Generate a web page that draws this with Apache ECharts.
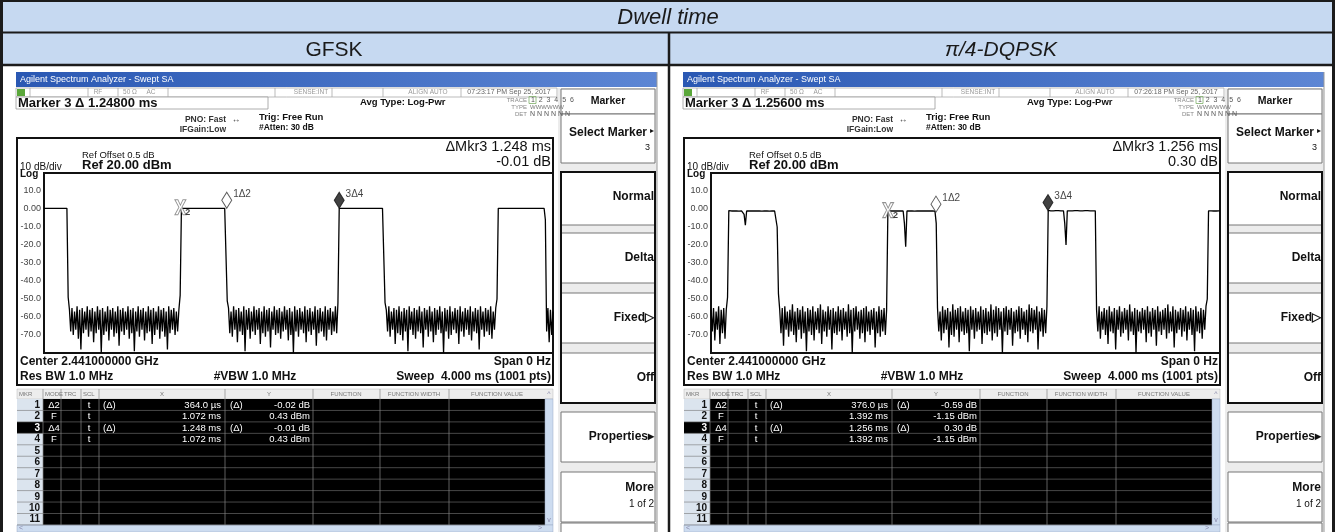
<!DOCTYPE html>
<html>
<head>
<meta charset="utf-8">
<script src="https://cdn.jsdelivr.net/npm/echarts@6/dist/echarts.min.js"></script>
<style>
  html, body { margin: 0; padding: 0; background: #fff; }
  #chart { width: 1335px; height: 532px; }
</style>
</head>
<body>
<div id="chart"></div>
<script>
// --- data (4 ms zero-span sweep, one sample per 10 us) ---
const sampleStep = 0.01; // ms
const yTickLabels = ['10.0', '0.00', '-10.0', '-20.0', '-30.0', '-40.0', '-50.0', '-60.0', '-70.0'];

// GFSK trace pieces
const gfskHigh0 = [0.4,0.4,0.4,0.4,0.4,0.4,0.4,0.4,0.4,0.4, 0.4,0.4,0.4,0.4,0.4,0.4,0.4,0.4,0.4];
const gfskNoise1 = [
  -56,-68,-55,-70,-57,-67,-54,-72,-56,-78,-55,-69,-57,-67,-54,-71,-56,-68,-55,-74,
  -57,-69,-54,-67,-56,-80,-55,-70,-57,-68,-54,-73,-56,-67,-55,-71,-57,-69,-54,-76,
  -56,-68,-55,-70,-57,-67,-54,-72,-56,-69,-55,-79,-57,-68,-54,-71,-56,-67,-55,-73,
  -57,-69,-54,-68,-56,-75,-55,-70,-57,-67,-54,-72,-56,-68,-55,-71,-57,-78,-54,-69,
  -56,-67,-55,-70,-57,-68,-56];
const gfskHigh1 = [0.4,0.4,0.4,0.4,0.4,0.4,0.4,0.4,0.4,0.4, 0.4,0.4,0.4,0.4,0.4,0.4,0.4,0.4,0.4,0.4,
  0.4,0.4,0.4,0.4,0.4,0.4,0.4,0.4,0.4,0.4, 0.4,0.4,0.4,0.4,0.4,0.4];
const gfskNoise2 = [
  -55,-69,-57,-71,-54,-67,-56,-74,-55,-68,-57,-70,-54,-79,-56,-67,-55,-72,-57,-68,
  -54,-70,-56,-67,-55,-75,-57,-69,-54,-71,-56,-68,-55,-77,-57,-67,-54,-70,-56,-69,
  -55,-72,-57,-68,-54,-67,-56,-73,-55,-70,-57,-80,-54,-68,-56,-71,-55,-67,-57,-69,
  -54,-74,-56,-68,-55,-70,-57,-67,-54,-76,-56,-69,-55,-68,-57,-71,-54,-73,-56,-67,
  -55,-70,-57,-68,-54,-69,-52];
const gfskHigh2 = [0.4,0.4,0.4,0.4,0.4,0.4,0.4,0.4,0.4,0.4, 0.4,0.4,0.4,0.4,0.4,0.4,0.4,0.4,0.4,0.4,
  0.4,0.4,0.4,0.4,0.4,0.4,0.4,0.4,0.4,0.4, 0.4,0.4,0.4,0.4,0.4,0.4];
const gfskNoise3 = [
  -56,-68,-54,-71,-57,-67,-55,-75,-56,-69,-54,-70,-57,-73,-55,-68,-56,-79,-54,-67,
  -57,-70,-55,-72,-56,-68,-54,-69,-57,-77,-55,-67,-56,-71,-54,-68,-57,-74,-55,-70,
  -56,-67,-54,-69,-57,-80,-55,-68,-56,-72,-54,-70,-57,-67,-55,-69,-56,-75,-54,-68,
  -57,-71,-55,-67,-56,-70,-54,-73,-57,-68,-55,-69,-56,-78,-54,-67,-57,-71,-55,-68,
  -56,-70,-54,-72,-57,-67,-55,-50];
const gfskHigh3 = [0.4,0.4,0.4,0.4,0.4,0.4,0.4,0.4,0.4,0.4, 0.4,0.4,0.4,0.4,0.4,0.4,0.4,0.4,0.4,0.4,
  0.4,0.4,0.4,0.4,0.4,0.4,0.4,0.4,0.4,0.4, 0.4,0.4,0.4,0.4,0.4,0.4,0.4];
const gfskNoise4 = [-68,-55,-74,-56,-70,-57];

// pi/4-DQPSK trace pieces
const dqpskNoise1 = [-56,-68,-55,-73,-57,-67,-54,-75,-56,-69,-55,-72,-56];
const dqpskHigh1 = [-0.9,-1.0,-1.1,-1.0,-1.1,-1.1,-1.0,-1.1,-1.2,-1.1,-1.1,-1.0,-3,-9,-1.1,-1.2,-1.1,-1.1,-1.0,-1.1,
  -1.1,-1.2,-1.1,-1.0,-1.1,-1.1,-1.2,-1.1,-1.1,-1.0, -1.1,-1.1,-1.2,-1.1,-1.1,-1.0,-1.1,-1.2];
const dqpskNoise2 = [
  -56,-69,-55,-76,-54,-67,-57,-71,-56,-68,-53,-70,-57,-74,-55,-67,-56,-72,-54,-69,
  -57,-79,-55,-68,-56,-70,-54,-73,-57,-67,-55,-69,-53,-75,-56,-68,-57,-71,-54,-67,
  -56,-78,-55,-69,-57,-70,-54,-68,-56,-73,-55,-67,-57,-71,-53,-69,-56,-80,-55,-68,
  -54,-67,-57,-72,-56,-69,-55,-74,-54,-68,-57,-70,-56,-67,-55,-77,-57,-69,-54,-71,
  -56,-68,-55,-70,-56];
const dqpskHigh2 = [-1.1,-1.0,-1.1,-1.2,-1.1,-1.1,-1.0,-1.1,-1.1,-1.2,-1.1,-1.0,-1.1,-8,-21,-1.1,-1.2,-1.1,-1.0,-1.1,
  -1.1,-1.2,-1.1,-1.1,-1.0,-1.1,-1.2,-1.1,-1.1,-1.0,-1.1,-1.1,-1.2,-1.1,-1.0,-1.1,-1.1,-1.2];
const dqpskNoise3 = [
  -55,-68,-57,-73,-54,-69,-56,-67,-55,-77,-57,-70,-53,-71,-56,-67,-55,-74,-54,-68,
  -57,-70,-55,-69,-56,-79,-54,-67,-56,-72,-55,-68,-57,-67,-54,-75,-56,-69,-55,-70,
  -57,-68,-53,-73,-56,-69,-54,-71,-55,-67,-57,-80,-55,-68,-54,-70,-56,-67,-55,-76,
  -57,-69,-56,-68,-54,-72,-55,-67,-57,-70,-56,-74,-53,-68,-55,-69,-56,-67,-54,-78,
  -57,-68,-55,-71,-56,-69,-54];
const dqpskHigh3 = [-0.8,-0.9,-1.0,-0.9,-1.0,-1.0,-0.9,-1.0,-0.9,-1.0,-1.0,-0.9,-1.0,-8,-20,-1.0,-0.9,-1.0,-0.9,-1.0,
  -1.0,-0.9,-1.0,-0.9,-1.0,-1.0,-0.9,-1.0,-1.0,-0.9,-1.0,-0.9,-1.0,-1.0,-0.9,-1.0,-0.9,-1.0];
const dqpskNoise4 = [
  -56,-68,-54,-72,-57,-67,-55,-70,-56,-75,-54,-68,-57,-69,-55,-78,-56,-67,-54,-71,
  -57,-69,-55,-67,-56,-73,-53,-68,-57,-70,-55,-80,-56,-68,-57,-69,-55,-67,-56,-74,
  -54,-69,-57,-71,-55,-67,-56,-76,-54,-68,-57,-70,-56,-67,-55,-72,-53,-69,-57,-68,
  -54,-77,-56,-69,-57,-67,-55,-71,-56,-68,-54,-73,-57,-67,-55,-70,-56,-79,-54,-68,
  -57,-69,-55,-72,-56,-67,-54,-50];
const dqpskHigh4 = [-1.0,-1.1,-1.0,-1.1,-1.1,-1.0,-1.1,-1.1,-1.0,-1.1];

const gfskTrace = [].concat(gfskHigh0, [-49], gfskNoise1, [-48], gfskHigh1, [-51], gfskNoise2,
  gfskHigh2, [-52], gfskNoise3, gfskHigh3, [-6], gfskNoise4);
const dqpskTrace = [].concat(dqpskNoise1, [-49], dqpskHigh1, [-10, -47], dqpskNoise2,
  dqpskHigh2, [-8], dqpskNoise3, dqpskHigh3, dqpskNoise4, dqpskHigh4);

// markers: 1 (delta), 2 (fixed), 3 (delta)
const markerNames = ['1Δ2', '2', '3Δ4'];
const gfskMarkerT = [1.436, 1.072, 2.320];
const gfskMarkerY = [0.41, 0.43, 0.42];
const dqpskMarkerT = [1.768, 1.392, 2.648];
const dqpskMarkerY = [-1.74, -1.15, -0.85];

// marker tables
const gfskTable = [
  ['1', 'Δ2', 't', '(Δ)', '364.0 µs', '(Δ)', '-0.02 dB'],
  ['2', 'F', 't', '', '1.072 ms', '', '0.43 dBm'],
  ['3', 'Δ4', 't', '(Δ)', '1.248 ms', '(Δ)', '-0.01 dB'],
  ['4', 'F', 't', '', '1.072 ms', '', '0.43 dBm']
];
const dqpskTable = [
  ['1', 'Δ2', 't', '(Δ)', '376.0 µs', '(Δ)', '-0.59 dB'],
  ['2', 'F', 't', '', '1.392 ms', '', '-1.15 dBm'],
  ['3', 'Δ4', 't', '(Δ)', '1.256 ms', '(Δ)', '0.30 dB'],
  ['4', 'F', 't', '', '1.392 ms', '', '-1.15 dBm']
];
const tableHeads = ['MKR', 'MODE', 'TRC', 'SCL', 'X', 'Y', 'FUNCTION', 'FUNCTION WIDTH', 'FUNCTION VALUE'];
const softkeys = ['Normal', 'Delta', 'Fixed▷', 'Off'];

const panelNames = ['GFSK', 'π/4-DQPSK'];
const timeStamps = ['07:23:17 PM Sep 25, 2017', '07:26:18 PM Sep 25, 2017'];
const readouts = ['Marker 3 Δ 1.24800 ms', 'Marker 3 Δ 1.25600 ms'];
const deltaTimes = ['ΔMkr3 1.248 ms', 'ΔMkr3 1.256 ms'];
const deltaLevels = ['-0.01 dB', '0.30 dB'];

// --- drawing helpers ---
const FONT = '"Liberation Sans", Arial, sans-serif';
const els = [];

function rect(x, y, w, h, fill, stroke, lw, z) {
  els.push({ type: 'rect', silent: true, z: z || 1, shape: { x, y, width: w, height: h },
    style: { fill: fill || 'none', stroke: stroke || null, lineWidth: lw || 0 } });
}
function line(x1, y1, x2, y2, stroke, lw, z) {
  els.push({ type: 'line', silent: true, z: z || 2, shape: { x1, y1, x2, y2 },
    style: { stroke, lineWidth: lw || 1 } });
}
function text(x, y, s, size, o) {
  o = o || {};
  els.push({ type: 'text', silent: true, z: o.z || 10, x, y,
    style: { text: s, fill: o.color || '#111',
      font: (o.italic ? 'italic ' : '') + (o.bold ? 'bold ' : '') + size + 'px ' + FONT,
      align: o.align || 'left', verticalAlign: 'middle' } });
}

// --- outer table ---
rect(2, 2, 1331, 30, '#c6d9f1', null, 0, 0);
rect(2, 33, 1331, 31, '#c6d9f1', null, 0, 0);
line(0, 1, 1335, 1, '#1b1b1b', 2);
line(0, 32.5, 1335, 32.5, '#1b1b1b', 2);
line(0, 65, 1335, 65, '#1b1b1b', 2.5);
line(1.5, 0, 1.5, 532, '#1b1b1b', 3);
line(669, 32, 669, 532, '#1b1b1b', 2.5);
line(1333.5, 0, 1333.5, 532, '#1b1b1b', 3);
text(668, 18, 'Dwell time', 22, { italic: true, align: 'center', color: '#1a1a1a' });
text(334, 50, panelNames[0], 21, { align: 'center', color: '#1a1a1a' });
text(1001, 50, panelNames[1], 21, { italic: true, align: 'center', color: '#1a1a1a' });

function drawScreen(p, ox, rows) {
  const X = v => v + ox;
  // title bar
  els.push({ type: 'rect', silent: true, z: 1, shape: { x: X(16), y: 72, width: 641, height: 15 },
    style: { fill: { type: 'linear', x: 0, y: 0, x2: 1, y2: 0,
      colorStops: [{ offset: 0, color: '#2a58b3' }, { offset: 1, color: '#5d86d4' }] } } });
  text(X(20), 79.5, 'Agilent Spectrum Analyzer - Swept SA', 9, { color: '#fff' });
  line(X(657), 72, X(657), 532, '#9a9a9a', 1);

  // status row
  rect(X(16), 88, 541, 9, '#fff', '#aaa', 0.8);
  [30, 88, 118, 168, 275, 332, 383, 461].forEach(c => line(X(c), 88, X(c), 97, '#aaa', 0.8));
  rect(X(17), 89, 8, 7, '#5aa73a');
  text(X(98), 92.5, 'RF', 6.5, { color: '#999', align: 'center' });
  text(X(130), 92.5, '50 Ω', 6.5, { color: '#999', align: 'center' });
  text(X(151), 92.5, 'AC', 6.5, { color: '#999', align: 'center' });
  text(X(311), 92.5, 'SENSE:INT', 6.5, { color: '#999', align: 'center' });
  text(X(428), 92.5, 'ALIGN AUTO', 6.5, { color: '#999', align: 'center' });
  text(X(509), 92.5, timeStamps[p], 7, { color: '#666', align: 'center' });

  // readout line
  rect(X(16), 97, 252, 12, '#fff', '#999', 0.8);
  text(X(18), 103.5, readouts[p], 13, { bold: true });
  text(X(360), 102, 'Avg Type: Log-Pwr', 9.5, { bold: true });
  text(X(527), 100, 'TRACE', 6, { color: '#888', align: 'right' });
  text(X(527), 107, 'TYPE', 6, { color: '#888', align: 'right' });
  text(X(527), 114, 'DET', 6, { color: '#888', align: 'right' });
  rect(X(529), 96.5, 7, 7, 'none', '#7fb06a', 0.8);
  text(X(531), 100, '1  2  3  4  5  6', 7, { color: '#555' });
  text(X(530), 107, 'WWWWWW', 6, { color: '#777' });
  text(X(530), 114, 'N N N N N N', 7, { color: '#555' });
  text(X(226), 120, 'PNO: Fast', 8.5, { bold: true, align: 'right', color: '#333' });
  text(X(236), 120, '↔', 8.5, { align: 'center', color: '#444' });
  text(X(226), 130, 'IFGain:Low', 8.5, { bold: true, align: 'right', color: '#333' });
  text(X(259), 117, 'Trig: Free Run', 9.5, { bold: true });
  text(X(259), 128, '#Atten: 30 dB', 8.5, { bold: true });

  // measurement frame
  rect(X(17), 138, 536, 247, 'none', '#111', 2, 3);
  text(X(82), 155, 'Ref Offset 0.5 dB', 9.5);
  text(X(82), 165, 'Ref 20.00 dBm', 13, { bold: true });
  text(X(20), 167, '10 dB/div', 10);
  text(X(20), 174, 'Log', 10, { bold: true });
  text(X(551), 147, deltaTimes[p], 14.5, { align: 'right' });
  text(X(551), 162, deltaLevels[p], 14.5, { align: 'right' });
  text(X(20), 362, 'Center 2.441000000 GHz', 12, { bold: true });
  text(X(20), 377, 'Res BW 1.0 MHz', 12, { bold: true });
  text(X(255), 377, '#VBW 1.0 MHz', 12, { bold: true, align: 'center' });
  text(X(551), 362, 'Span 0 Hz', 12, { bold: true, align: 'right' });
  text(X(551), 377, 'Sweep  4.000 ms (1001 pts)', 12, { bold: true, align: 'right' });

  // softkeys
  rect(X(558), 88, 99, 444, '#ececec', null, 0, 0);
  rect(X(561), 89, 94, 25, '#fff', '#777', 1);
  text(X(608), 101.5, 'Marker', 10.5, { bold: true, align: 'center' });
  rect(X(561), 114, 94, 49, '#fff', '#777', 1);
  text(X(647), 133, 'Select Marker', 12, { bold: true, align: 'right' });
  text(X(652), 131, '▸', 8, { align: 'center' });
  text(X(650), 148, '3', 9, { align: 'right' });
  softkeys.forEach((k, i) => {
    const y = [172, 233, 293, 353][i];
    rect(X(561), y, 94, [53, 50, 50, 50][i], '#fff', '#777', 1);
    text(X(654), y + 25, k, 12, { bold: true, align: 'right' });
  });
  rect(X(561), 172, 94, 231, 'none', '#111', 2, 3);
  rect(X(561), 412, 94, 50, '#fff', '#777', 1);
  text(X(654), 437, 'Properties▸', 12, { bold: true, align: 'right' });
  rect(X(561), 472, 94, 50, '#fff', '#777', 1);
  text(X(654), 488, 'More', 12, { bold: true, align: 'right' });
  text(X(654), 504, '1 of 2', 10, { align: 'right' });
  rect(X(561), 523, 94, 12, '#fff', '#777', 1);

  // marker table
  rect(X(17), 389, 536, 10, '#ededed', '#bbb', 0.5);
  const headX = [19, 45, 64, 83, 162, 269, 346, 414, 497];
  tableHeads.forEach((h, i) => text(X(headX[i]), 394, h, 6, { color: '#777', align: i > 3 ? 'center' : 'left' }));
  text(X(549), 394, '^', 7, { color: '#88a', align: 'center' });
  const rowH = 11.45;
  rect(X(17), 399, 528, rowH * 11, '#000');
  rect(X(17), 399, 26, rowH * 11, '#dbe4ee');
  const colLines = [43, 61, 81, 99, 225, 313, 380, 449];
  for (let r = 0; r < 11; r++) {
    const y = 399 + r * rowH;
    const sel = r === 2;
    if (sel) rect(X(17), y, 26, rowH, '#000');
    text(X(40), y + rowH / 2 + 0.5, String(r + 1), 10, { bold: true, align: 'right', color: sel ? '#fff' : '#111' });
    line(X(17), y + rowH, X(545), y + rowH, '#777', 0.6);
    const d = rows[r];
    if (d) {
      const cy = y + rowH / 2 + 0.5;
      text(X(54), cy, d[1], 9.5, { color: '#fff', align: 'center' });
      text(X(89), cy, d[2], 9.5, { color: '#fff', align: 'center' });
      text(X(103), cy, d[3], 9.5, { color: '#fff' });
      text(X(221), cy, d[4], 9.5, { color: '#fff', align: 'right' });
      text(X(230), cy, d[5], 9.5, { color: '#fff' });
      text(X(310), cy, d[6], 9.5, { color: '#fff', align: 'right' });
    }
  }
  colLines.forEach(c => line(X(c), 389, X(c), 399 + rowH * 11, '#888', 0.7));
  rect(X(545), 399, 8, rowH * 11, '#cddcf0', '#9aabc4', 0.5);
  text(X(549), 520, 'v', 7, { color: '#88a', align: 'center' });
  rect(X(17), 525, 536, 7, '#cddcf0', '#9aabc4', 0.5);
  text(X(21), 528.5, '<', 7, { color: '#88a', align: 'center' });
  text(X(540), 528.5, '>', 7, { color: '#88a', align: 'center' });
}
drawScreen(0, 0, gfskTable);
drawScreen(1, 667, dqpskTable);

// --- plots ---
const xSymbol = 'path://M0,0 L3,0 L5.5,5.5 L8,0 L11,0 L7,7.5 L11,15 L8,15 L5.5,9.5 L3,15 L0,15 L4,7.5 Z';
function grid(left) {
  return { left, top: 173, width: 509, height: 180, show: true, backgroundColor: '#fff',
    borderColor: '#111', borderWidth: 2, z: 1 };
}
function xAx(i) {
  return { type: 'value', gridIndex: i, min: 0, max: 4, interval: 0.4,
    axisLine: { show: false }, axisTick: { show: false }, axisLabel: { show: false },
    splitLine: { lineStyle: { color: '#8a8a8a', width: 1.5 } } };
}
function yAx(i) {
  return { type: 'value', gridIndex: i, min: -80, max: 20, interval: 10,
    axisLine: { show: false }, axisTick: { show: false },
    axisLabel: { margin: 3, fontSize: 9, color: '#444', fontFamily: FONT,
      formatter: v => { const k = Math.round((10 - v) / 10); return k >= 0 && k < yTickLabels.length ? yTickLabels[k] : ''; } },
    splitLine: { lineStyle: { color: '#8a8a8a', width: 1.5 } } };
}
function traceSeries(i, trace) {
  return { type: 'line', xAxisIndex: i, yAxisIndex: i, data: trace.map((v, k) => [k * sampleStep, v]),
    showSymbol: false, symbol: 'none', lineStyle: { color: '#000', width: 1.3 }, z: 3, silent: true };
}
function markerSeries(i, ts, ys) {
  const data = ts.map((t, k) => {
    const item = { value: [t, ys[k]], name: markerNames[k] };
    if (k === 1) {
      item.symbol = xSymbol; item.symbolSize = [11, 15]; item.symbolOffset = [0, -1];
      item.itemStyle = { color: '#fff', borderColor: '#777', borderWidth: 1 };
      item.label = { show: true, position: 'right', distance: 0, offset: [-1, 5], formatter: '{b}',
        fontSize: 9, fontWeight: 'bold', color: '#111', fontFamily: FONT };
    } else {
      item.symbol = 'diamond'; item.symbolSize = [10, 16]; item.symbolOffset = [0, -8];
      item.itemStyle = k === 0 ? { color: '#fff', borderColor: '#333', borderWidth: 1 }
                               : { color: '#111', borderColor: '#111', borderWidth: 1 };
      item.label = { show: true, position: 'right', distance: 1, offset: [0, -6], formatter: '{b}',
        fontSize: 10, color: '#111', fontFamily: FONT };
    }
    return item;
  });
  return { type: 'scatter', xAxisIndex: i, yAxisIndex: i, data, z: 5, silent: true };
}

const chart = echarts.init(document.getElementById('chart'), null, { renderer: 'canvas' });
chart.setOption({
  animation: false,
  backgroundColor: '#fff',
  grid: [grid(44), grid(711)],
  xAxis: [xAx(0), xAx(1)],
  yAxis: [yAx(0), yAx(1)],
  series: [
    traceSeries(0, gfskTrace), traceSeries(1, dqpskTrace),
    markerSeries(0, gfskMarkerT, gfskMarkerY), markerSeries(1, dqpskMarkerT, dqpskMarkerY)
  ],
  graphic: { elements: els }
});
</script>
</body>
</html>
